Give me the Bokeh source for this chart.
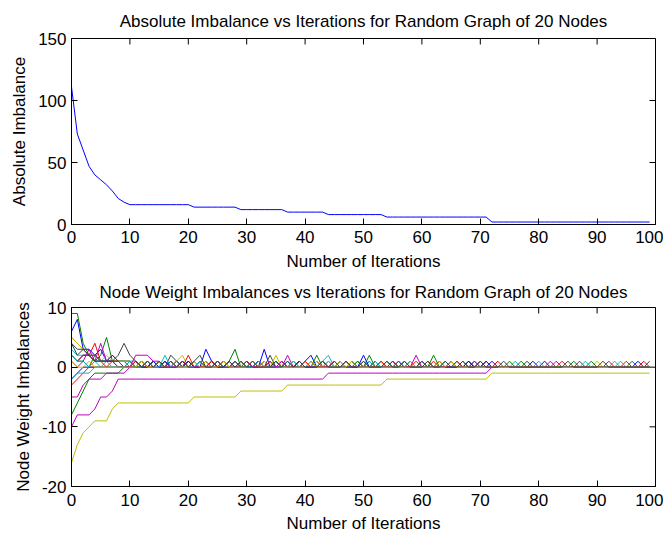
import math
from bokeh.plotting import figure
from bokeh.layouts import column
from bokeh.models import FixedTicker, Range1d
from bokeh.embed import file_html
from bokeh.resources import INLINE

# ---------------- data ----------------
iterations = list(range(100))

x_ticks = [0, 10, 20, 30, 40, 50, 60, 70, 80, 90, 100]
abs_y_ticks = [0, 50, 100, 150]
node_y_ticks = [-20, -10, 0, 10]
node_y_tick_labels = {-20: "-20", -10: "-10", 0: "0", 10: "10"}

abs_imbalance = [111, 73, 60, 47, 40, 36, 32, 27, 21, 18,
                 16, 16, 16, 16, 16, 16, 16, 16, 16, 16,
                 16, 14, 14, 14, 14, 14, 14, 14, 14, 12,
                 12, 12, 12, 12, 12, 12, 12, 10, 10, 10,
                 10, 10, 10, 10, 8, 8, 8, 8, 8, 8,
                 8, 8, 8, 8, 6, 6, 6, 6, 6, 6,
                 6, 6, 6, 6, 6, 6, 6, 6, 6, 6,
                 6, 6, 2, 2, 2, 2, 2, 2, 2, 2,
                 2, 2, 2, 2, 2, 2, 2, 2, 2, 2,
                 2, 2, 2, 2, 2, 2, 2, 2, 2, 2]

node_00 = [6, 8, 3, 3, 2, 3, 1, 2, 1, 1,  1, 0, 1, 0, 1, 0, 1, 0, 1, 0,
           1, 0, 1, 0, 1, 0, 1, 0, 1, 0,  1, 0, 1, 0, 1, 0, 1, 0, 1, 0,
           1, 2, 0, 0, 1, 0, 1, 0, 1, 0,  0, 1, 0, 1, 0, 0, 1, 0, 0, 0,
           1, 0, 0, 1, 0, 0, 1, 0, 0, 1,  0, 0, 0, 0, 0, 0, 0, 0, 0, 1,
           0, 0, 0, 0, 0, 0, 0, 0, 0, 0,  0, 0, 0, 0, 0, 0, 0, 0, 0, 0]
node_01 = [9, 9, 4, 2, 1, 2, 5, 1, 1, 1,  0, 1, 0, 1, 0, 1, 0, 1, 0, 1,
           0, 1, 0, 1, 0, 1, 0, 1, 0, 1,  0, 1, 0, 1, 0, 1, 0, 1, 0, 1,
           0, 0, 2, 0, 0, 1, 0, 1, 0, 0,  1, 0, 0, 0, 1, 0, 0, 0, 0, 0,
           0, 0, 0, 0, 0, 0, 0, 1, 0, 0,  0, 0, 0, 0, 0, 0, 0, 0, 0, 0,
           0, 0, 0, 0, 0, 0, 1, 0, 0, 0,  0, 0, 0, 0, 0, 0, 0, 0, 0, 0]
node_02 = [5, 4, 3, 2, 4, 1, 1, 1, 1, 1,  1, 0, 1, 0, 1, 0, 1, 0, 1, 0,
           1, 0, 1, 0, 1, 0, 1, 0, 1, 0,  1, 0, 1, 0, 1, 0, 1, 0, 1, 0,
           1, 0, 1, 0, 0, 0, 1, 0, 0, 1,  0, 0, 1, 0, 0, 1, 0, 0, 1, 0,
           0, 0, 1, 0, 0, 1, 0, 0, 0, 0,  0, 1, 0, 1, 0, 0, 0, 0, 0, 0,
           0, 0, 0, 0, 0, 0, 0, 0, 0, 0,  0, 0, 0, 0, 0, 1, 0, 0, 0, 0]
node_03 = [3, 2, 2, 2, 1, 0, 1, 1, 1, 1,  1, 1, 0, 1, 0, 1, 0, 1, 0, 1,
           0, 1, 0, 1, 0, 1, 0, 1, 0, 1,  0, 1, 0, 0, 1, 0, 0, 1, 0, 0,
           1, 0, 0, 1, 2, 0, 0, 1, 0, 0,  0, 1, 0, 0, 1, 0, 0, 1, 0, 0,
           1, 0, 0, 0, 1, 0, 0, 1, 0, 0,  1, 0, 0, 0, 0, 0, 1, 0, 0, 0,
           0, 0, 0, 0, 0, 0, 0, 0, 0, 0,  0, 0, 0, 1, 0, 0, 0, 0, 0, 0]
node_04 = [-10, -8, -8, -8, -7, -5, -5, -4, -2, -2,
           -2, -2, -2, -2, -2, -2, -2, -2, -2, -2,
           -2, -2, -2, -2, -2, -2, -2, -2, -2, -2,
           -2, -2, -2, -2, -2, -2, -2, -2, -2, -2,
           -2, -2, -2, -2, -1, -1, -1, -1, -1, -1,
           -1, -1, -1, -1, -1, -1, -1, -1, -1, -1,
           -1, -1, -1, -1, -1, -1, -1, -1, -1, -1,
           -1, -1, 0, 0, 0, 0, 0, 0, 0, 0,
           0, 0, 0, 0, 0, 0, 0, 0, 0, 0,
           0, 0, 0, 0, 0, 0, 0, 0, 0, 0]
node_05 = [-16, -13, -11, -10, -9, -9, -9, -7, -6, -6,
           -6, -6, -6, -6, -6, -6, -6, -6, -6, -6,
           -6, -5, -5, -5, -5, -5, -5, -5, -5, -4,
           -4, -4, -4, -4, -4, -4, -4, -3, -3, -3,
           -3, -3, -3, -3, -3, -3, -3, -3, -3, -3,
           -3, -3, -3, -3, -2, -2, -2, -2, -2, -2,
           -2, -2, -2, -2, -2, -2, -2, -2, -2, -2,
           -2, -2, -1, -1, -1, -1, -1, -1, -1, -1,
           -1, -1, -1, -1, -1, -1, -1, -1, -1, -1,
           -1, -1, -1, -1, -1, -1, -1, -1, -1, -1]
node_06 = [4, 3, 3, 2, 1, 1, 1, 1, 2, 4,  2, 1, 0, 1, 0, 1, 0, 1, 0, 1,
           0, 1, 2, 0, 0, 1, 0, 1, 0, 1,  0, 1, 0, 0, 0, 1, 0, 1, 0, 1,
           0, 0, 0, 1, 0, 0, 0, 1, 0, 0,  1, 0, 0, 0, 1, 0, 0, 1, 0, 0,
           0, 1, 0, 0, 1, 0, 0, 1, 0, 0,  1, 0, 0, 0, 1, 0, 0, 0, 0, 0,
           0, 0, 0, 0, 0, 1, 0, 0, 0, 0,  0, 1, 0, 0, 0, 0, 0, 0, 0, 0]
node_07 = [-2, -1, 0, 0, 0, 0, 0, 0, 0, 0,  0, 0, 0, 0, 1, 0, 1, 0, 0, 0,
           1, 0, 0, 0, 0, 0, 1, 0, 0, 0,  0, 0, 0, 3, 0, 0, 0, 0, 0, 0,
           0, 0, 0, 0, 0, 0, 0, 0, 0, 0,  0, 0, 0, 0, 0, 0, 0, 0, 0, 0,
           0, 0, 0, 0, 0, 0, 0, 0, 0, 0,  0, 1, 0, 0, 0, 0, 0, 0, 0, 0,
           0, 1, 0, 0, 0, 0, 0, 0, 0, 0,  0, 0, 0, 0, 0, 0, 0, 0, 0, 0]
node_08 = [-8, -6, -4, -2, -1, -1, -1, -1, -1, 0,  0, 0, 0, 0, 0, 0, 0, 0, 0, 0,
           0, 0, 0, 0, 0, 0, 0, 0, 0, 0,  0, 0, 0, 0, 0, 0, 0, 0, 0, 0,
           0, 0, 0, 0, 0, 0, 0, 0, 0, 0,  0, 2, 0, 0, 0, 0, 0, 0, 0, 0,
           0, 0, 0, 0, 0, 0, 0, 0, 0, 0,  0, 0, 0, 0, 0, 1, 0, 0, 0, 0,
           0, 0, 0, 0, 0, 0, 0, 0, 0, 0,  0, 0, 0, 0, 0, 0, 1, 0, 0, 0]
node_09 = [-3, -2, -1, 0, 0, 0, 0, 0, 0, 0,  0, 1, 0, 1, 0, 1, 0, 1, 0, 1,
           0, 1, 0, 1, 0, 1, 0, 1, 0, 1,  0, 1, 0, 1, 0, 0, 1, 0, 0, 1,
           0, 0, 1, 0, 0, 1, 0, 0, 1, 0,  0, 0, 1, 0, 0, 1, 0, 0, 0, 1,
           0, 0, 0, 1, 0, 0, 0, 0, 1, 0,  0, 0, 0, 0, 0, 0, 0, 0, 0, 0,
           0, 0, 0, 0, 1, 0, 0, 0, 0, 0,  0, 0, 0, 0, 0, 0, 0, 0, 1, 0]
node_10 = [-2, -1, -1, -1, 0, 0, 0, 0, 0, 0,  0, 0, 1, 0, 1, 0, 1, 0, 1, 0,
           1, 0, 1, 0, 1, 0, 1, 0, 1, 0,  1, 0, 1, 0, 0, 1, 0, 0, 1, 0,
           0, 1, 0, 0, 0, 0, 1, 0, 0, 1,  0, 0, 0, 1, 0, 0, 1, 0, 0, 0,
           0, 1, 0, 0, 0, 0, 1, 0, 0, 1,  0, 0, 0, 0, 0, 0, 0, 0, 0, 0,
           1, 0, 0, 0, 0, 0, 0, 0, 0, 0,  0, 0, 0, 0, 1, 0, 0, 0, 0, 0]
node_11 = [-5, -5, -3, -2, -2, -2, -1, -1, -1, -1,  0, 0, 0, 0, 0, 0, 0, 0, 0, 0,
           0, 0, 0, 0, 0, 0, 0, 0, 0, 0,  0, 0, 0, 0, 0, 0, 0, 2, 0, 0,
           0, 0, 0, 0, 0, 0, 0, 0, 0, 0,  0, 0, 0, 0, 0, 0, 0, 0, 0, 0,
           0, 0, 0, 0, 0, 0, 0, 0, 0, 1,  0, 0, 0, 0, 0, 0, 0, 0, 0, 0,
           0, 0, 1, 0, 0, 0, 0, 0, 0, 0,  0, 0, 0, 0, 0, 0, 0, 0, 0, 0]
node_12 = [5, 4, 3, 2, 2, 1, 2, 1, 1, 1,  1, 0, 1, 0, 1, 0, 1, 0, 1, 2,
           0, 1, 0, 1, 0, 1, 0, 1, 0, 1,  0, 1, 0, 1, 0, 0, 1, 0, 1, 0,
           1, 0, 1, 0, 1, 0, 1, 0, 0, 1,  0, 0, 0, 1, 0, 0, 0, 0, 1, 0,
           0, 0, 0, 1, 0, 0, 0, 0, 0, 0,  0, 0, 0, 0, 0, 0, 0, 0, 0, 0,
           0, 0, 0, 0, 0, 0, 0, 0, 0, 0,  1, 0, 0, 0, 0, 0, 0, 0, 0, 0]
node_13 = [4, 2, 3, 2, 2, 1, 1, 2, 1, 0,  0, 0, 1, 0, 1, 0, 0, 2, 1, 0,
           1, 0, 1, 0, 1, 0, 1, 0, 1, 0,  1, 0, 1, 0, 2, 0, 1, 0, 0, 1,
           0, 1, 0, 1, 0, 1, 0, 0, 1, 0,  0, 0, 1, 0, 0, 1, 0, 0, 0, 0,
           1, 0, 0, 0, 0, 1, 0, 0, 1, 0,  0, 1, 0, 0, 0, 0, 0, 0, 1, 0,
           0, 0, 0, 0, 0, 0, 0, 1, 0, 0,  0, 0, 0, 0, 0, 0, 0, 0, 0, 1]
node_14 = [2, 1, 2, 2, 1, 1, 1, 1, 0, 0,  0, 1, 0, 0, 1, 0, 1, 0, 1, 0,
           1, 0, 0, 3, 1, 0, 0, 1, 0, 0,  0, 0, 1, 0, 0, 0, 0, 0, 0, 1,
           0, 0, 0, 0, 0, 0, 0, 0, 0, 0,  2, 0, 0, 0, 0, 0, 0, 0, 0, 0,
           0, 0, 0, 0, 0, 0, 0, 0, 1, 0,  0, 0, 1, 0, 0, 0, 0, 0, 0, 0,
           0, 0, 0, 0, 0, 0, 0, 0, 0, 0,  0, 0, 0, 0, 0, 0, 0, 1, 0, 0]
node_15 = [2, 1, 1, 0, 2, 1, 1, 1, 1, 0,  1, 0, 0, 1, 0, 1, 0, 1, 0, 1,
           0, 1, 0, 0, 1, 0, 0, 1, 3, 0,  0, 0, 0, 0, 0, 1, 0, 0, 0, 0,
           0, 0, 0, 1, 0, 0, 0, 0, 0, 1,  0, 0, 0, 0, 0, 0, 0, 1, 0, 0,
           0, 0, 2, 0, 0, 0, 0, 0, 0, 0,  0, 0, 0, 0, 0, 0, 0, 1, 0, 0,
           0, 0, 0, 0, 0, 0, 0, 0, 0, 1,  0, 0, 0, 0, 0, 0, 0, 0, 0, 0]
node_16 = [2, 1, 2, 2, 1, 1, 0, 1, 1, 0,  0, 1, 0, 0, 0, 1, 0, 0, 1, 0,
           2, 0, 0, 0, 1, 0, 1, 0, 0, 0,  1, 0, 0, 0, 1, 0, 0, 0, 0, 0,
           1, 0, 0, 0, 0, 0, 0, 1, 0, 0,  0, 0, 0, 1, 0, 0, 0, 0, 0, 0,
           0, 1, 0, 0, 0, 0, 1, 0, 0, 0,  1, 0, 0, 0, 0, 0, 0, 0, 0, 0,
           0, 0, 0, 0, 0, 0, 0, 0, 0, 0,  0, 0, 1, 0, 0, 0, 0, 0, 0, 0]
node_17 = [2, 1, 1, 0, 1, 1, 1, 0, 0, 0,  1, 0, 0, 1, 0, 0, 2, 0, 1, 0,
           0, 0, 1, 0, 0, 1, 0, 0, 0, 1,  0, 0, 1, 0, 0, 0, 0, 0, 1, 0,
           0, 0, 0, 1, 0, 0, 0, 0, 0, 0,  0, 0, 1, 0, 0, 0, 0, 0, 1, 0,
           0, 0, 0, 0, 1, 0, 0, 0, 0, 0,  0, 0, 0, 0, 0, 0, 0, 0, 0, 0,
           0, 0, 0, 0, 0, 0, 0, 0, 1, 0,  0, 0, 0, 0, 0, 0, 0, 0, 0, 0]
node_18 = [1, 0, 1, 3, 1, 4, 1, 1, 0, 0,  0, 2, 2, 2, 1, 1, 0, 0, 0, 1,
           0, 0, 0, 0, 0, 1, 0, 0, 0, 0,  1, 0, 0, 0, 0, 0, 1, 0, 0, 0,
           0, 0, 0, 0, 0, 1, 0, 0, 0, 0,  0, 0, 0, 0, 0, 0, 1, 0, 0, 2,
           0, 0, 0, 0, 0, 0, 0, 0, 0, 0,  0, 0, 0, 0, 0, 0, 0, 0, 0, 0,
           0, 0, 0, 1, 0, 0, 0, 0, 0, 0,  0, 0, 0, 0, 0, 0, 0, 0, 0, 0]
node_19 = [1, 0, 0, 1, 0, 0, 0, 0, 0, 0,  0, 0, 1, 0, 0, 1, 0, 1, 0, 0,
           0, 1, 0, 0, 0, 0, 1, 0, 0, 0,  0, 1, 0, 0, 0, 2, 0, 0, 0, 0,
           0, 1, 0, 0, 0, 0, 0, 0, 1, 0,  0, 0, 0, 0, 0, 0, 0, 0, 0, 0,
           0, 0, 0, 0, 0, 1, 0, 0, 0, 0,  0, 0, 0, 0, 0, 0, 0, 0, 0, 0,
           0, 0, 0, 0, 0, 0, 0, 0, 0, 0,  0, 0, 0, 0, 0, 0, 0, 0, 0, 0]

node_series = [node_00, node_01, node_02, node_03, node_04, node_05, node_06,
               node_07, node_08, node_09, node_10, node_11, node_12, node_13,
               node_14, node_15, node_16, node_17, node_18, node_19]

# ---------------- style ----------------
FONT = "Liberation Sans"
FS = "17px"
MATLAB_COLORS = ["#0000ff", "#008000", "#ff0000", "#00bfbf",
                 "#bf00bf", "#bfbf00", "#404040"]
TICK_LEN = 12  # dash marker, half of it lies inside the frame


def style_axis(ax, ticks, overrides=None):
    ax.ticker = FixedTicker(ticks=ticks, minor_ticks=[])
    ax.major_tick_in = 6
    ax.major_tick_out = 0
    ax.minor_tick_in = 0
    ax.minor_tick_out = 0
    ax.axis_line_color = "black"
    ax.major_tick_line_color = "black"
    ax.major_label_text_font = FONT
    ax.major_label_text_font_size = FS
    ax.major_label_text_color = "black"
    ax.axis_label_text_font = FONT
    ax.axis_label_text_font_size = FS
    ax.axis_label_text_font_style = "normal"
    ax.axis_label_text_color = "black"
    if overrides:
        ax.major_label_overrides = overrides


def make_fig(title, height, y0, y1, yticks, ylabel, btop, bbot,
             title_standoff, x_lab_standoff, x_axlab_standoff, overrides=None):
    p = figure(width=663, height=height,
               x_range=Range1d(0, 100), y_range=Range1d(y0, y1),
               output_backend="svg", toolbar_location=None,
               min_border_left=71, min_border_right=8,
               min_border_top=btop, min_border_bottom=bbot)
    p.title.text = title
    p.title.align = "center"
    p.title.text_font = FONT
    p.title.text_font_size = FS
    p.title.text_font_style = "normal"
    p.title.text_color = "black"
    p.title.standoff = title_standoff
    p.xgrid.visible = False
    p.ygrid.visible = False
    p.outline_line_color = "black"
    p.outline_line_width = 1
    p.background_fill_color = "white"
    p.border_fill_color = "white"
    style_axis(p.xaxis[0], x_ticks)
    style_axis(p.yaxis[0], yticks, overrides)
    p.xaxis[0].axis_label = "Number of Iterations"
    p.xaxis[0].major_label_standoff = x_lab_standoff
    p.xaxis[0].axis_label_standoff = x_axlab_standoff
    p.yaxis[0].axis_label = ylabel
    p.yaxis[0].major_label_standoff = 5
    p.yaxis[0].axis_label_standoff = 6
    # mirrored inward ticks on the top and right edges of the box
    p.scatter(x=x_ticks, y=[y1] * len(x_ticks), marker="dash",
              angle=math.pi / 2, size=TICK_LEN, line_color="black",
              line_width=1)
    p.scatter(x=[100] * len(yticks), y=yticks, marker="dash",
              size=TICK_LEN, line_color="black", line_width=1)
    return p


p1 = make_fig("Absolute Imbalance vs Iterations for Random Graph of 20 Nodes",
              275, 0, 150, abs_y_ticks, "Absolute Imbalance", 38, 51,
              16, 6, 6)
p1.line(iterations, abs_imbalance, line_color="#0000ff", line_width=1)

p2 = make_fig("Node Weight Imbalances vs Iterations for Random Graph of 20 Nodes",
              260, -20, 10, node_y_ticks, "Node Weight Imbalances", 31, 45,
              11, 7, 5, node_y_tick_labels)
draw_order = [i for i in range(len(node_series)) if i != 6] + [6]
for i in draw_order:
    p2.line(iterations, node_series[i],
            line_color=MATLAB_COLORS[i % 7], line_width=1)

layout = column(p1, p2)
open("out.html", "w").write(file_html(layout, INLINE))
